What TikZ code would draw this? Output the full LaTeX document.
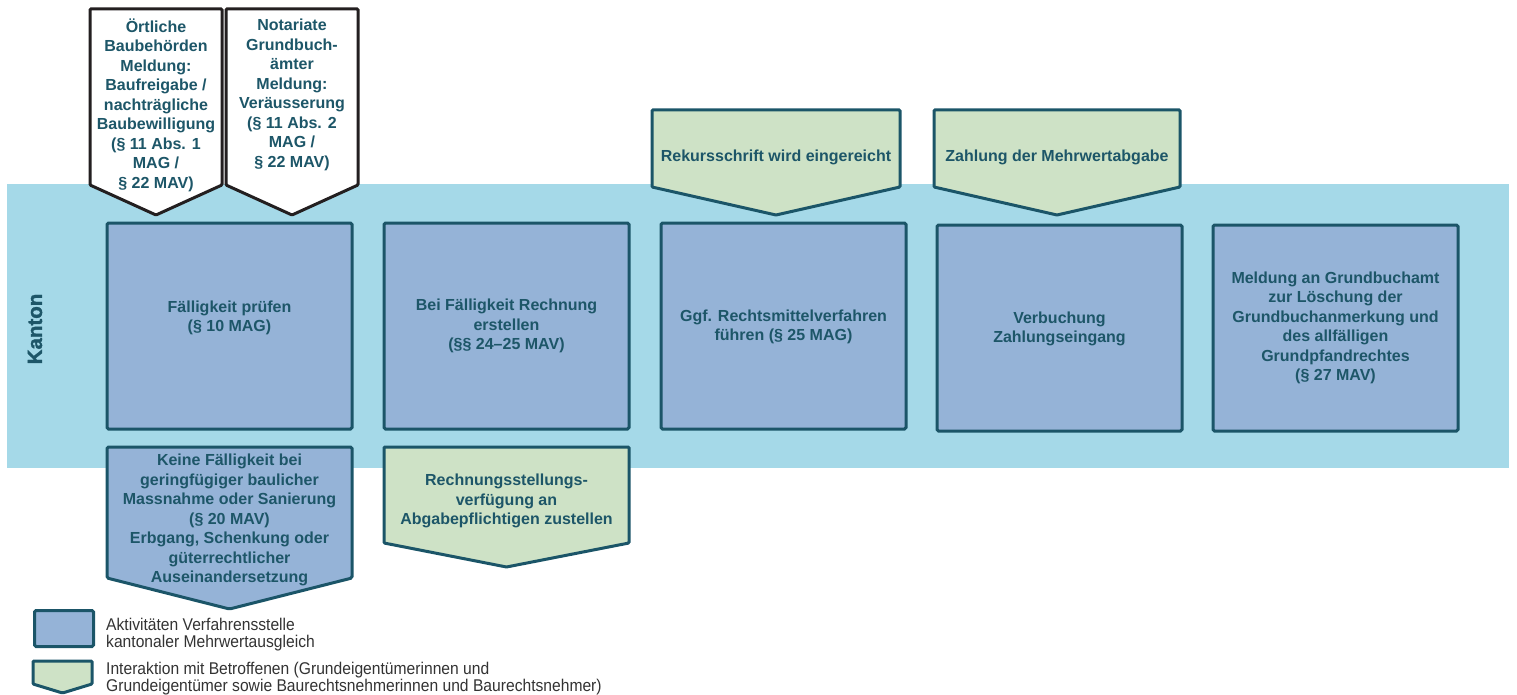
\documentclass[tikz,border=0pt]{standalone}
\usepackage{fontspec}
\setmainfont{Liberation Sans}
\newfontfamily\legfont[FakeStretch=0.92]{Liberation Sans}
\newfontfamily\kantonfont[FakeBold=1.5]{Liberation Sans Bold}
\definecolor{bandc}{HTML}{A5D9E8}
\definecolor{actc}{HTML}{95B3D7}
\definecolor{interc}{HTML}{CEE2C6}
\definecolor{edgec}{HTML}{1B5568}
\definecolor{txtc}{HTML}{1D5668}
\definecolor{inkc}{HTML}{231F20}
\definecolor{legc}{HTML}{333333}
\newcommand\downpent[6]{%
  \path[#1] (#2,#4) -- (#3,#4) -- (#3,#5) -- ({(#2+#3)/2},#6) -- (#2,#5) -- cycle;}
\tikzset{
  actbox/.style={draw=edgec, fill=actc, line width=3pt, rounded corners=1.5pt, inner sep=0pt},
  interbox/.style={draw=edgec, fill=interc, line width=3pt, rounded corners=1pt},
  extbox/.style={draw=inkc, fill=white, line width=3pt, rounded corners=1pt},
  lbl/.style={text=txtc, font=\fontsize{16}{19.5}\selectfont\bfseries, align=center, inner sep=0pt},
  legtext/.style={text=legc, font=\legfont\fontsize{17}{17}\selectfont, align=left, inner sep=0pt, anchor=west},
}
\begin{document}
\begin{tikzpicture}[x=1pt,y=-1pt]
\useasboundingbox (0,0) rectangle (1517,695);
% band
\node[fill=bandc, minimum width=1502pt, minimum height=284pt, inner sep=0pt, anchor=north west] (band) at (7,184) {};
\node[lbl, font=\kantonfont\fontsize{20.5}{24}\selectfont, rotate=90] (kanton) at (35,329) {Kanton};
% external inputs (white)
\downpent{extbox}{90}{222}{9}{185}{215}
\node[lbl] (ortl) at (156,105) {Örtliche\\Baubehörden\\Meldung:\\Baufreigabe /\\nachträgliche\\Baubewilligung\\(§ 11 Abs. 1\\MAG /\\§ 22 MAV)};
\downpent{extbox}{226}{358}{9}{185}{215}
\node[lbl] (notar) at (292,95) {Notariate\\Grundbuch-\\ämter\\Meldung:\\Veräusserung\\(§ 11 Abs. 2\\MAG /\\§ 22 MAV)};
% interaction top
\downpent{interbox}{652}{900}{110}{187}{215}
\node[lbl] (rek) at (776,157) {Rekursschrift wird eingereicht};
\downpent{interbox}{934}{1180}{110}{187}{215}
\node[lbl] (zahl) at (1057,157) {Zahlung der Mehrwertabgabe};
% activity boxes
\node[actbox, minimum width=245pt, minimum height=206pt] (b1) at (229.5,326) {};
\node[lbl] (t1) at (229.5,318) {Fälligkeit prüfen\\(§ 10 MAG)};
\node[actbox, minimum width=245pt, minimum height=206pt] (b2) at (506.5,326) {};
\node[lbl] (t2) at (506.5,326) {Bei Fälligkeit Rechnung\\erstellen\\(§§ 24–25 MAV)};
\node[actbox, minimum width=245pt, minimum height=206pt] (b3) at (783.5,326) {};
\node[lbl] (t3) at (783.5,327) {Ggf. Rechtsmittelverfahren\\führen (§ 25 MAG)};
\node[actbox, minimum width=245pt, minimum height=206pt] (b4) at (1059.5,328) {};
\node[lbl] (t4) at (1059.5,329) {Verbuchung\\Zahlungseingang};
\node[actbox, minimum width=245pt, minimum height=206pt] (b5) at (1335.5,328) {};
\node[lbl] (t5) at (1335.5,328) {Meldung an Grundbuchamt\\zur Löschung der\\Grundbuchanmerkung und\\des allfälligen\\Grundpfandrechtes\\(§ 27 MAV)};
% bottom pentagons
\downpent{actbox}{107}{352}{447}{578}{609}
\node[lbl] (keine) at (229.5,520) {Keine Fälligkeit bei\\geringfügiger baulicher\\Massnahme oder Sanierung\\(§ 20 MAV)\\Erbgang, Schenkung oder\\güterrechtlicher\\Auseinandersetzung};
\downpent{interbox}{384}{629}{447}{543}{567}
\node[lbl] (rech) at (506.5,501) {Rechnungsstellungs-\\verfügung an\\Abgabepflichtigen zustellen};
% legend
\node[actbox, minimum width=59pt, minimum height=36pt, anchor=north west] (legA) at (33,609) {};
\node[legtext] (legAt) at (106,635) {Aktivitäten Verfahrensstelle\\kantonaler Mehrwertausgleich};
\downpent{interbox}{33}{92}{661}{684}{693}
\node[legtext] (legBt) at (106,679) {Interaktion mit Betroffenen (Grundeigentümerinnen und\\Grundeigentümer sowie Baurechtsnehmerinnen und Baurechtsnehmer)};
\end{tikzpicture}
\end{document}
